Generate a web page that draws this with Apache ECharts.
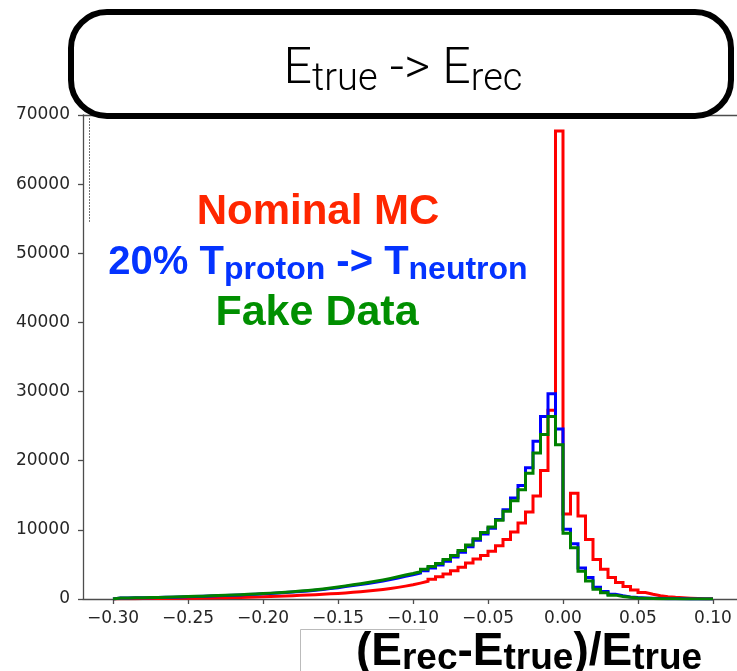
<!DOCTYPE html>
<html>
<head>
<meta charset="utf-8">
<script src="https://cdn.jsdelivr.net/npm/echarts@6/dist/echarts.min.js"></script>
<style>
  html, body { margin: 0; padding: 0; background: #ffffff; }
  #chart { width: 737px; height: 671px; }
</style>
</head>
<body>
<div id="chart"></div>
<script>
// Histogram binning of (Erec - Etrue) / Etrue
const binStart = -0.30;
const binWidth = 0.005;

// Tick positions
const xTickValues = [-0.30, -0.25, -0.20, -0.15, -0.10, -0.05, 0.00, 0.05, 0.10];

// Entries per bin (80 bins from -0.30 to 0.10)
const nominalMC = [
  40, 45, 50, 56, 62, 70, 78, 87, 97, 108,
  120, 134, 150, 167, 186, 207, 230, 256, 285, 316,
  350, 390, 430, 475, 525, 575, 630, 690, 750, 810,
  880, 960, 1050, 1150, 1260, 1380, 1520, 1680, 1860, 2060,
  2300, 2560, 2870, 3220, 3620, 4080, 4600, 5200, 5800, 6300,
  6900, 7700, 8600, 9700, 11000, 12600, 14900, 18600, 27300, 67700,
  12300, 15300, 12000, 8600, 5700, 4300, 3100, 2400, 1800, 1300,
  950, 680, 480, 340, 240, 170, 120, 80, 50, 30
];

const protonToNeutron = [
  140, 150, 165, 180, 198, 218, 240, 265, 292, 325,
  358, 392, 430, 468, 510, 553, 596, 643, 695, 748,
  805, 862, 928, 1004, 1080, 1165, 1260, 1375, 1500, 1640,
  1800, 1945, 2095, 2255, 2425, 2615, 2825, 3050, 3300, 3510,
  3750, 4090, 4480, 4920, 5460, 6060, 6760, 7570, 8480, 9400,
  10250, 11500, 12900, 14600, 16400, 19000, 22800, 26400, 29700, 24600,
  10100, 8000, 4500, 3100, 1700, 1100, 700, 460, 300, 200,
  140, 95, 65, 45, 32, 22, 15, 10, 6, 4
];

const fakeData = [
  150, 160, 175, 190, 210, 230, 255, 280, 310, 345,
  380, 415, 455, 495, 540, 585, 630, 680, 735, 790,
  850, 910, 980, 1060, 1140, 1230, 1330, 1450, 1580, 1730,
  1900, 2050, 2210, 2380, 2560, 2760, 2980, 3220, 3480, 3700,
  3950, 4300, 4700, 5150, 5700, 6300, 7000, 7800, 8700, 9600,
  10400, 11400, 12700, 14200, 15800, 18200, 21100, 23800, 26400, 22300,
  9500, 7400, 4000, 2600, 1400, 900, 560, 360, 240, 160,
  110, 75, 50, 35, 25, 18, 12, 8, 5, 3
];

// Outline of a step histogram: up from zero at the first edge,
// across each bin, back down to zero at the last edge.
function stepOutline(counts) {
  const pts = [[binStart, 0]];
  counts.forEach((c, i) => pts.push([+(binStart + i * binWidth).toFixed(4), c]));
  pts.push([+(binStart + counts.length * binWidth).toFixed(4), 0]);
  return pts;
}

const tickFont = { fontFamily: 'DejaVu Sans', fontSize: 17, color: '#262626' };
const axisGray = '#4d4d4d';
const boldFamily = '"Liberation Sans", Arial, sans-serif';
const lightFamily = 'Roboto, Lato, sans-serif';

function histSeries(name, counts, color, z) {
  return {
    name: name,
    type: 'line',
    step: 'end',
    data: stepOutline(counts),
    showSymbol: false,
    silent: true,
    animation: false,
    z: z,
    lineStyle: { color: color, width: 3, join: 'miter' }
  };
}

const chart = echarts.init(document.getElementById('chart'), null, { renderer: 'canvas' });

chart.setOption({
  backgroundColor: '#ffffff',
  animation: false,
  grid: { left: 83, right: 0, top: 115, bottom: 72 },
  xAxis: [
    {
      type: 'value',
      min: -0.32,
      max: 0.116,
      axisLine: { show: true, onZero: false, lineStyle: { color: axisGray, width: 1.3 } },
      axisTick: { show: true, inside: false, length: 5, customValues: xTickValues, lineStyle: { color: axisGray, width: 1.3 } },
      axisLabel: Object.assign({
        margin: 11,
        customValues: xTickValues,
        formatter: v => v.toFixed(2).replace('-', '\u2212')
      }, tickFont),
      splitLine: { show: false }
    },
    {
      type: 'value',
      position: 'top',
      min: -0.32,
      max: 0.116,
      axisLine: { show: true, onZero: false, lineStyle: { color: axisGray, width: 1.3 } },
      axisTick: { show: false },
      axisLabel: { show: false },
      splitLine: { show: false }
    }
  ],
  yAxis: {
    type: 'value',
    min: 0,
    max: 70000,
    interval: 10000,
    axisLine: { show: true, onZero: false, lineStyle: { color: axisGray, width: 1.3 } },
    axisTick: { show: true, inside: false, length: 5, lineStyle: { color: axisGray, width: 1.3 } },
    axisLabel: Object.assign({ margin: 13, formatter: v => String(v) }, tickFont),
    splitLine: { show: false }
  },
  series: [
    histSeries('Nominal MC', nominalMC, '#ff0000', 2),
    histSeries('20% Tproton -> Tneutron', protonToNeutron, '#0000ff', 3),
    histSeries('Fake Data', fakeData, '#008000', 4)
  ],
  graphic: [
    // thin leftover frame lines
    { type: 'line', z: 50, shape: { x1: 89.5, y1: 118, x2: 89.5, y2: 222 },
      style: { stroke: '#777', lineWidth: 1, lineDash: [2, 1] } },
    { type: 'polyline', z: 50, shape: { points: [[300.5, 671], [300.5, 629.5], [425, 629.5]] },
      style: { stroke: '#bbbbbb', lineWidth: 1, fill: null } },
    // title box
    { type: 'rect', z: 60,
      shape: { x: 71, y: 12, width: 660, height: 104, r: 36 },
      style: { fill: '#ffffff', stroke: '#000000', lineWidth: 6 } },
    { type: 'text', z: 61, x: 403, y: 70,
      style: {
        text: '{m|E}{s|true}{m| -> E}{s|rec}',
        align: 'center', verticalAlign: 'middle', fill: '#000',
        rich: {
          m: { fontFamily: lightFamily, fontWeight: 300, fontSize: 50, lineHeight: 58, fill: '#000' },
          s: { fontFamily: lightFamily, fontWeight: 300, fontSize: 38, lineHeight: 38, verticalAlign: 'bottom', fill: '#000' }
        }
      } },
    // series captions
    { type: 'text', z: 61, x: 318, y: 212,
      style: { text: 'Nominal MC', align: 'center', verticalAlign: 'middle',
        fontFamily: boldFamily, fontWeight: 'bold', fontSize: 42, fill: '#ff2600' } },
    { type: 'text', z: 61, x: 318, y: 263,
      style: {
        text: '{b|20% T}{s|proton}{b| -> T}{s|neutron}',
        align: 'center', verticalAlign: 'middle', fill: '#0433ff',
        rich: {
          b: { fontFamily: boldFamily, fontWeight: 'bold', fontSize: 40, lineHeight: 46, fill: '#0433ff' },
          s: { fontFamily: boldFamily, fontWeight: 'bold', fontSize: 32, lineHeight: 34, verticalAlign: 'bottom', fill: '#0433ff' }
        }
      } },
    { type: 'text', z: 61, x: 317, y: 313,
      style: { text: 'Fake Data', align: 'center', verticalAlign: 'middle',
        fontFamily: boldFamily, fontWeight: 'bold', fontSize: 43, fill: '#008f00' } },
    // x-axis title
    { type: 'text', z: 61, x: 529, y: 652,
      style: {
        text: '{b|(E}{s|rec}{b|-E}{s|true}{b|)/E}{s|true}',
        align: 'center', verticalAlign: 'middle', fill: '#000',
        rich: {
          b: { fontFamily: boldFamily, fontWeight: 'bold', fontSize: 46, lineHeight: 50, fill: '#000' },
          s: { fontFamily: boldFamily, fontWeight: 'bold', fontSize: 37, lineHeight: 40, verticalAlign: 'bottom', fill: '#000' }
        }
      } }
  ]
});
</script>
</body>
</html>
